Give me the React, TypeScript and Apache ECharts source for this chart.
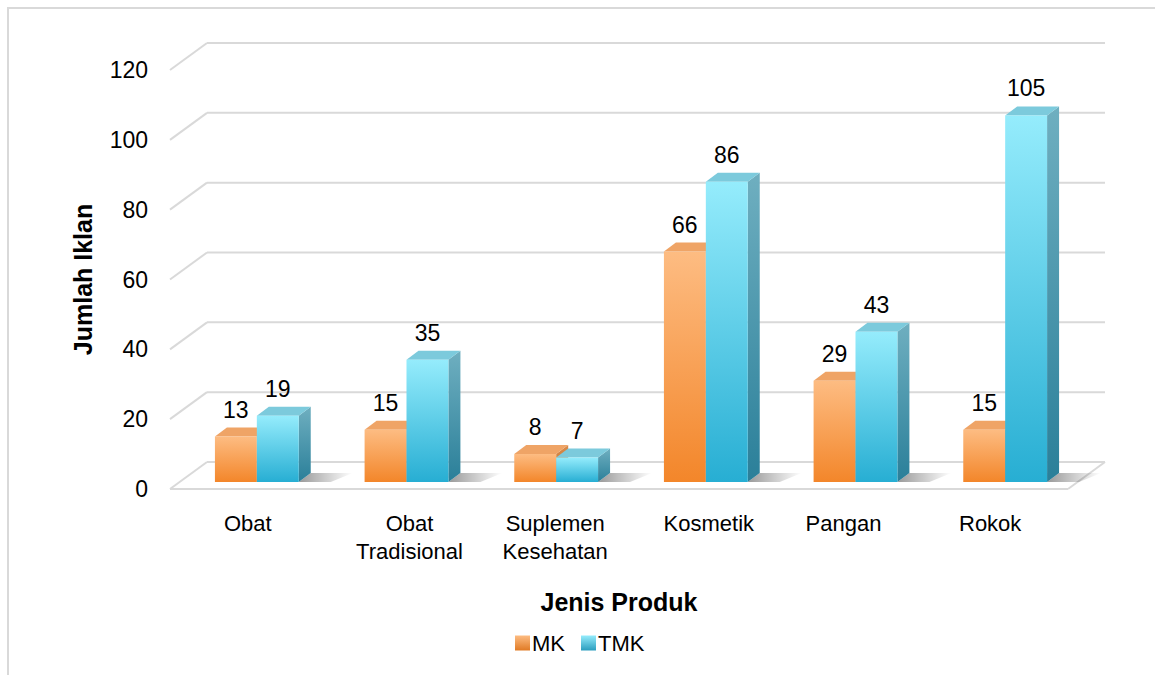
import React, { useEffect, useRef } from "react";
import * as echarts from "echarts";

const categories = ["Obat", "Obat\nTradisional", "Suplemen\nKesehatan", "Kosmetik", "Pangan", "Rokok"];
const mkValues = [13, 15, 8, 66, 29, 15];
const tmkValues = [19, 35, 7, 86, 43, 105];
const yTicks = [0, 20, 40, 60, 80, 100, 120];
const seriesNames = ["MK", "TMK"];

const FONT = "'Liberation Sans', Arial, sans-serif";
const DEPTH_X = 37;
const DEPTH_Y = -27;
const BAR_DX = 12;
const BAR_DY = -7;
const BAR_DDX = 12;
const BAR_DDY = -9;
const LABEL_SHIFT = [3, 15, 11, 15, 0, -3];

const palette = [
  { top: "#FDBC82", bottom: "#F3862A", side: "#C86E25", sideTop: "#D88B4C", cap: "#EFA466" },
  { top: "#95ECFC", bottom: "#27AED3", side: "#2A7F99", sideTop: "#6FAFC0", cap: "#7CCADC" },
];

const rich: any = {};
LABEL_SHIFT.forEach((s, i) => {
  rich["r" + i] = {
    fontSize: 22,
    color: "#000",
    fontFamily: FONT,
    lineHeight: 28,
    padding: s >= 0 ? [0, 0, 0, 2 * s] : [0, -2 * s, 0, 0],
  };
});

function makeBarRender(sIdx: number) {
  return (params: any, api: any) => {
    const i = api.value(0);
    const v = api.value(1);
    const pTop = api.coord([i, v]);
    const pBot = api.coord([i, 0]);
    const band = api.size([1, 0])[0];
    const bw = band * 0.28;
    const cx = pTop[0];
    const left = cx - bw + sIdx * bw + BAR_DX;
    const right = left + bw;
    const top = pTop[1] + BAR_DY;
    const bot = pBot[1] + BAR_DY;
    const c = palette[sIdx];
    return {
      type: "group",
      children: [
        {
          type: "polygon",
          shape: {
            points: [
              [right, bot],
              [right + BAR_DDX, bot + BAR_DDY],
              [right + BAR_DDX + 42, bot + BAR_DDY],
              [right + 32, bot],
            ],
          },
          style: {
            fill: new echarts.graphic.LinearGradient(0, 0, 1, 0, [
              { offset: 0, color: "rgba(0,0,0,0.4)" },
              { offset: 1, color: "rgba(0,0,0,0)" },
            ]),
          },
          z2: 1,
        },
        {
          type: "polygon",
          shape: {
            points: [
              [right, top],
              [right + BAR_DDX, top + BAR_DDY],
              [right + BAR_DDX, bot + BAR_DDY],
              [right, bot],
            ],
          },
          style: {
            fill: new echarts.graphic.LinearGradient(0, 0, 0, 1, [
              { offset: 0, color: c.sideTop },
              { offset: 1, color: c.side },
            ]),
          },
          z2: 2,
        },
        {
          type: "polygon",
          shape: {
            points: [
              [left, top],
              [left + BAR_DDX, top + BAR_DDY],
              [right + BAR_DDX, top + BAR_DDY],
              [right, top],
            ],
          },
          style: { fill: c.cap },
          z2: 2,
        },
        {
          type: "rect",
          shape: { x: left, y: top, width: bw, height: bot - top },
          style: {
            fill: new echarts.graphic.LinearGradient(0, 0, 0, 1, [
              { offset: 0, color: c.top },
              { offset: 1, color: c.bottom },
            ]),
          },
          z2: 3,
        },
        {
          type: "text",
          x: left + bw / 2,
          y: top - 27,
          style: {
            text: String(v),
            fill: "#000",
            font: `23px ${FONT}`,
            align: "center",
            verticalAlign: "middle",
          },
          z2: 4,
        },
      ],
    };
  };
}

function renderDecor(params: any, api: any) {
  const v = api.value(0);
  const cs = params.coordSys;
  const y = api.coord([0, v])[1];
  const line = (x1: number, y1: number, x2: number, y2: number) => ({
    type: "line",
    shape: { x1, y1, x2, y2 },
    style: { stroke: "#D9D9D9", lineWidth: 2 },
  });
  const children: any[] = [
    line(cs.x, y, cs.x + DEPTH_X, y + DEPTH_Y),
    line(cs.x + DEPTH_X, y + DEPTH_Y, cs.x + cs.width + DEPTH_X, y + DEPTH_Y),
  ];
  if (v === 0) {
    children.push(line(cs.x, y, cs.x + cs.width, y));
    children.push(line(cs.x + cs.width, y, cs.x + cs.width + DEPTH_X, y + DEPTH_Y));
  }
  return { type: "group", children };
}

export default function App() {
  const ref = useRef<HTMLDivElement>(null);
  useEffect(() => {
    document.body.style.margin = "0";
    const chart = echarts.init(ref.current!, null, { renderer: "svg" });
    chart.setOption({
      animation: false,
      backgroundColor: "#fff",
      textStyle: { fontFamily: FONT },
      grid: { left: 170, right: 87, top: 70, bottom: 186 },
      legend: {
        data: [
          {
            name: seriesNames[0],
            itemStyle: {
              color: new echarts.graphic.LinearGradient(0, 0, 0, 1, [
                { offset: 0, color: "#FDBC82" },
                { offset: 1, color: "#E07A24" },
              ]),
            },
          },
          {
            name: seriesNames[1],
            itemStyle: {
              color: new echarts.graphic.LinearGradient(0, 0, 0, 1, [
                { offset: 0, color: "#95ECFC" },
                { offset: 1, color: "#2A9DBE" },
              ]),
            },
          },
        ],
        left: 510,
        top: 627,
        icon: "rect",
        itemWidth: 15,
        itemHeight: 15,
        itemGap: 16,
        textStyle: { fontSize: 22, color: "#000", fontFamily: FONT, padding: [0, 0, 0, -3] },
      },
      xAxis: {
        type: "category",
        data: categories,
        axisLine: { show: false },
        axisTick: { show: false },
        axisLabel: {
          interval: 0,
          hideOverlap: false,
          fontSize: 22,
          color: "#000",
          lineHeight: 28,
          margin: 20,
          fontFamily: FONT,
          formatter: (val: string, idx: number) =>
            val
              .split("\n")
              .map((l) => `{r${idx}|${l}}`)
              .join("\n"),
          rich,
        },
        name: "Jenis Produk",
        nameLocation: "middle",
        nameGap: 100,
        nameTextStyle: { fontSize: 25, fontWeight: "bold", color: "#000", fontFamily: FONT },
      },
      yAxis: {
        type: "value",
        min: 0,
        max: 120,
        interval: 20,
        axisLine: { show: false },
        axisTick: { show: false },
        splitLine: { show: false },
        axisLabel: { fontSize: 23, color: "#000", margin: 22, fontFamily: FONT },
        name: "Jumlah Iklan",
        nameLocation: "middle",
        nameGap: 75,
        nameTextStyle: { fontSize: 25, fontWeight: "bold", color: "#000", fontFamily: FONT },
      },
      graphic: [
        {
          type: "rect",
          shape: { x: 8, y: 8, width: 1200, height: 700 },
          style: { fill: "none", stroke: "#D9D9D9", lineWidth: 2 },
          silent: true,
        },
      ],
      series: [
        {
          type: "custom",
          name: "decor",
          data: yTicks.map((t) => [t]),
          renderItem: renderDecor,
          silent: true,
          z: 1,
        },
        {
          type: "custom",
          name: seriesNames[0],
          data: mkValues.map((v, i) => [i, v]),
          renderItem: makeBarRender(0),
          itemStyle: { color: "#F08C34" },
          encode: { x: 0, y: 1 },
          z: 2,
        },
        {
          type: "custom",
          name: seriesNames[1],
          data: tmkValues.map((v, i) => [i, v]),
          renderItem: makeBarRender(1),
          itemStyle: { color: "#3FBCDB" },
          encode: { x: 0, y: 1 },
          z: 3,
        },
      ],
    });
    return () => chart.dispose();
  }, []);
  return <div ref={ref} style={{ width: 1155, height: 675 }} />;
}
